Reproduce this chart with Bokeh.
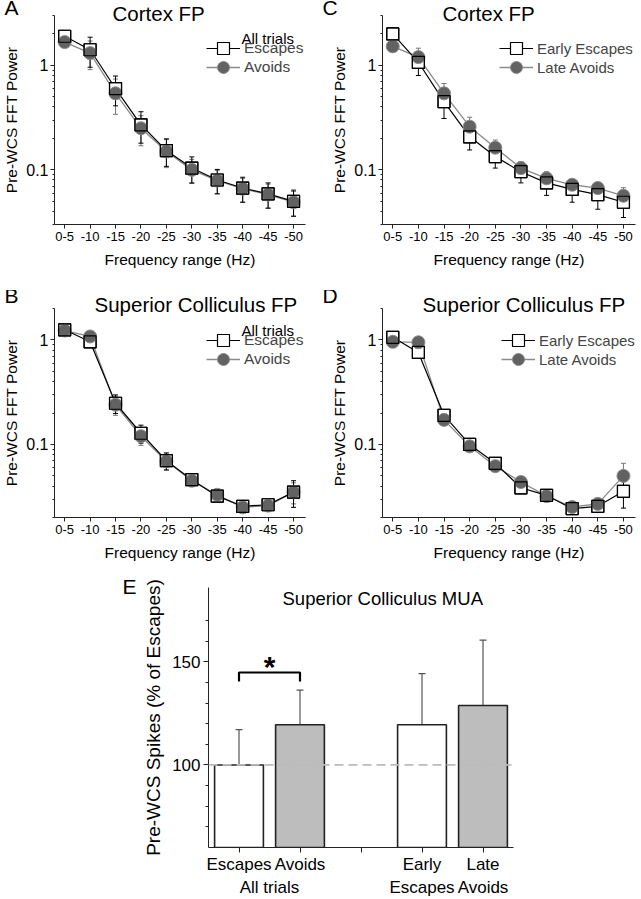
from bokeh.plotting import figure
from bokeh.layouts import column, row
from bokeh.models import (Range1d, FixedTicker, NumeralTickFormatter, Whisker, TeeHead,
                          Legend, LegendItem, Label, Span, ColumnDataSource, Title, LinearAxis)
from bokeh.embed import file_html
from bokeh.resources import INLINE

FONT = "Liberation Sans"

# ---------------- data ----------------
freq_labels = ["0-5", "-10", "-15", "-20", "-25", "-30", "-35", "-40", "-45", "-50"]

a_escapes = [1.90, 1.41, 0.60, 0.27, 0.153, 0.104, 0.080, 0.067, 0.059, 0.050]
a_escapes_err = [0.25, 0.45, 0.19, 0.09, 0.045, 0.029, 0.021, 0.018, 0.016, 0.014]
a_avoids = [1.67, 1.31, 0.54, 0.25, 0.150, 0.100, 0.079, 0.066, 0.058, 0.049]
a_avoids_err = [0.17, 0.40, 0.20, 0.08, 0.045, 0.026, 0.020, 0.017, 0.015, 0.013]

c_escapes = [2.00, 1.07, 0.45, 0.207, 0.134, 0.096, 0.075, 0.065, 0.058, 0.049]
c_escapes_err = [0.30, 0.27, 0.14, 0.052, 0.030, 0.021, 0.018, 0.016, 0.016, 0.014]
c_avoids = [1.52, 1.20, 0.54, 0.259, 0.163, 0.104, 0.083, 0.072, 0.067, 0.0565]
c_avoids_err = [0.15, 0.26, 0.13, 0.060, 0.030, 0.016, 0.013, 0.009, 0.009, 0.011]

b_escapes = [1.25, 0.96, 0.248, 0.128, 0.070, 0.046, 0.032, 0.0256, 0.0265, 0.035]
b_escapes_err = [0.12, 0.10, 0.05, 0.025, 0.013, 0.006, 0.003, 0.002, 0.002, 0.010]
b_avoids = [1.23, 1.08, 0.240, 0.120, 0.069, 0.045, 0.033, 0.025, 0.026, 0.035]
b_avoids_err = [0.10, 0.08, 0.05, 0.022, 0.012, 0.005, 0.003, 0.002, 0.002, 0.008]

d_escapes = [1.06, 0.76, 0.19, 0.100, 0.066, 0.0385, 0.0326, 0.0243, 0.0256, 0.0356]
d_escapes_err = [0.06, 0.06, 0.015, 0.008, 0.004, 0.003, 0.003, 0.002, 0.002, 0.011]
d_avoids = [0.96, 0.95, 0.172, 0.096, 0.062, 0.0437, 0.032, 0.0252, 0.027, 0.050]
d_avoids_err = [0.05, 0.05, 0.012, 0.006, 0.004, 0.003, 0.003, 0.002, 0.002, 0.016]

e_tick_labels = ["Escapes", "Avoids", "", "Early", "Late"]
e_group_ticks = [0.5, 3, 4]
e_group_labels = ["All trials", "Escapes", "Avoids"]
e_positions = [0, 1, 3, 4]
e_values = [100.0, 119.5, 119.5, 128.8]
e_errors = [17.1, 16.8, 24.8, 31.7]
e_fills = ["white", "#bdbdbd", "white", "#bdbdbd"]
bracket_y = [140.5, 144.8, 144.8, 140.5]
bracket_x = [0, 0, 1, 1]

ESC_COLOR = "black"
AVO_LINE = "#8a8a8a"
AVO_FILL = "#626262"
AXIS_COLOR = "#222222"
log_minor = [0.02, 0.03, 0.04, 0.05, 0.06, 0.07, 0.08, 0.09,
             0.2, 0.3, 0.4, 0.5, 0.6, 0.7, 0.8, 0.9, 2, 3, 4, 5, 6, 7, 8, 9]


def txt(x, y, text, size, xu="screen", yu="screen", align="left", style="normal",
        baseline="alphabetic"):
    return Label(x=x, y=y, x_units=xu, y_units=yu, text=text, text_font=FONT,
                 text_font_size=size, text_align=align, text_baseline=baseline,
                 text_font_style=style, text_color="black")


def add_title(p, text, size, offset, standoff):
    p.add_layout(Title(text=text, align="left", offset=offset, standoff=standoff,
                       vertical_align="bottom", text_font=FONT, text_font_size=size,
                       text_font_style="normal", text_color="black"), "above")


def spectrum_panel(width, height, borders, yrange, esc, esc_err, avo, avo_err, names,
                   header_xy, legend_x, legend_y1, legend_y2, legend_size):
    l, r, t, b = borders
    p = figure(width=width, height=height, output_backend="svg", toolbar_location=None,
               y_axis_type="log", x_range=Range1d(-0.4, 9.47), y_range=Range1d(*yrange),
               min_border_left=l, min_border_right=r, min_border_top=t, min_border_bottom=b)
    p.outline_line_color = None
    p.grid.visible = False

    xs = list(range(len(freq_labels)))
    src = ColumnDataSource(dict(
        x=xs, esc=esc, avo=avo,
        esc_lo=[v - e for v, e in zip(esc, esc_err)], esc_hi=[v + e for v, e in zip(esc, esc_err)],
        avo_lo=[v - e for v, e in zip(avo, avo_err)], avo_hi=[v + e for v, e in zip(avo, avo_err)],
    ))

    avo_line = p.line("x", "avo", source=src, line_color=AVO_LINE, line_width=1.3)
    esc_line = p.line("x", "esc", source=src, line_color=ESC_COLOR, line_width=1.2)

    p.add_layout(Whisker(source=src, base="x", lower="avo_lo", upper="avo_hi",
                         line_color="#777777", line_width=1,
                         lower_head=TeeHead(size=5, line_color="#777777", line_width=1),
                         upper_head=TeeHead(size=5, line_color="#777777", line_width=1)))
    p.add_layout(Whisker(source=src, base="x", lower="esc_lo", upper="esc_hi",
                         line_color="black", line_width=1,
                         lower_head=TeeHead(size=5, line_color="black", line_width=1),
                         upper_head=TeeHead(size=5, line_color="black", line_width=1)))

    esc_sq = p.scatter("x", "esc", source=src, marker="square", size=12,
                       fill_color="white", line_color="black", line_width=1.2)
    avo_ci = p.scatter("x", "avo", source=src, marker="circle", size=13,
                       fill_color=AVO_FILL, line_color=AVO_LINE, line_width=1)
    p.scatter("x", "esc", source=src, marker="square", size=12,
              fill_alpha=0, line_color="black", line_width=1.2)

    for item, ly in ((LegendItem(label=names[0], renderers=[esc_line, esc_sq]), legend_y1),
                     (LegendItem(label=names[1], renderers=[avo_line, avo_ci]), legend_y2)):
        p.add_layout(Legend(items=[item], location=(legend_x, ly), padding=0, margin=0,
                            glyph_width=34, glyph_height=30, label_height=30, label_standoff=4,
                            label_text_font=FONT, label_text_font_size=legend_size,
                            border_line_color=None, background_fill_alpha=0))

    p.xaxis.ticker = FixedTicker(ticks=xs)
    p.xaxis.major_label_overrides = {i: lab for i, lab in enumerate(freq_labels)}
    p.xaxis.axis_label = "Frequency range (Hz)"
    p.yaxis.ticker = FixedTicker(ticks=[0.1, 1], minor_ticks=log_minor)
    p.yaxis.formatter = NumeralTickFormatter(format="0.[0]")
    p.yaxis.axis_label = "Pre-WCS FFT Power"
    for ax in (p.xaxis[0], p.yaxis[0]):
        ax.axis_line_color = AXIS_COLOR
        ax.major_tick_line_color = AXIS_COLOR
        ax.minor_tick_line_color = AXIS_COLOR
        ax.major_tick_in = 0
        ax.major_tick_out = 4
        ax.minor_tick_in = 0
        ax.minor_tick_out = 2
        ax.major_label_text_font = FONT
        ax.axis_label_text_font = FONT
        ax.axis_label_text_font_style = "normal"
        ax.major_label_text_color = "black"
        ax.axis_label_text_color = "black"
        ax.major_label_standoff = 3
        ax.axis_label_standoff = 4
    p.xaxis.minor_tick_line_color = None
    p.xaxis.major_label_text_font_size = "13px"
    p.xaxis.axis_label_text_font_size = "15.5px"
    p.xaxis.axis_label_standoff = 7
    p.yaxis.major_label_text_font_size = "16px"
    p.yaxis.axis_label_text_font_size = "15.5px"
    p.yaxis.major_label_standoff = 2
    p.yaxis.axis_label_standoff = 3

    if header_xy is not None:
        p.add_layout(txt(header_xy[0], header_xy[1], "All trials", "15px"))
    return p


pA = spectrum_panel(320, 290, (52, 15, 15, 66), (0.03, 3.0),
                    a_escapes, a_escapes_err, a_avoids, a_avoids_err, ["Escapes", "Avoids"],
                    (187, 186), 152, 161, 142, "15.5px")
add_title(pA, "Cortex FP", "20.5px", 58, -18)
add_title(pA, "A", "21px", -50, -20)

pC = spectrum_panel(321, 290, (62, 6, 15, 66), (0.03, 3.0),
                    c_escapes, c_escapes_err, c_avoids, c_avoids_err, ["Early Escapes", "Late Avoids"],
                    None, 117, 161, 142, "15px")
add_title(pC, "Cortex FP", "20.5px", 60, -18)
add_title(pC, "C", "21px", -60, -20)

pB = spectrum_panel(320, 284, (52, 15, 18, 57), (0.02, 2.0),
                    b_escapes, b_escapes_err, b_avoids, b_avoids_err, ["Escapes", "Avoids"],
                    (187, 187.5), 152, 162, 143, "15.5px")
add_title(pB, "Superior Colliculus FP", "20.5px", 40, -14)
add_title(pB, "B", "21px", -50, -18)

pD = spectrum_panel(321, 284, (62, 6, 18, 57), (0.02, 2.0),
                    d_escapes, d_escapes_err, d_avoids, d_avoids_err, ["Early Escapes", "Late Avoids"],
                    None, 119, 162, 143, "15px")
add_title(pD, "Superior Colliculus FP", "20.5px", 40, -14)
add_title(pD, "D", "21px", -60, -18)

# ---------------- panel E ----------------
pE = figure(width=641, height=325, output_backend="svg", toolbar_location=None,
            x_range=Range1d(-0.5, 4.5), y_range=Range1d(60, 186),
            min_border_left=208, min_border_right=128, min_border_top=13, min_border_bottom=49)
pE.outline_line_color = None
pE.grid.visible = False

esrc = ColumnDataSource(dict(x=e_positions, top=e_values, fill=e_fills,
                             up=[v + e for v, e in zip(e_values, e_errors)]))
pE.vbar(x="x", top="top", bottom=0, width=0.8, source=esrc, fill_color="fill",
        line_color="#222222", line_width=1.6)
pE.add_layout(Whisker(source=esrc, base="x", lower="top", upper="up", lower_head=None,
                      upper_head=TeeHead(size=7, line_color="#555555", line_width=1.2),
                      line_color="#555555", line_width=1.2))
pE.add_layout(Span(location=100, dimension="width", line_color="#bbbbbb",
                   line_dash="9 5", line_width=1.8))
pE.line(bracket_x, bracket_y, line_color="black", line_width=2.2)
pE.add_layout(txt(0.5, 147.5, "*", "30px", xu="data", yu="data", align="center", style="bold"))
pE.add_layout(txt(74, 249, "Superior Colliculus MUA", "18.5px"))
add_title(pE, "E", "21px", -86, -20)

pE.xaxis.ticker = FixedTicker(ticks=list(range(len(e_tick_labels))))
pE.xaxis.major_label_overrides = {i: lab for i, lab in enumerate(e_tick_labels)}
group_axis = LinearAxis(ticker=FixedTicker(ticks=e_group_ticks),
                        major_label_overrides={t: lab for t, lab in zip(e_group_ticks, e_group_labels)})
pE.add_layout(group_axis, "below")
pE.yaxis.ticker = FixedTicker(ticks=[100, 150], minor_ticks=[70, 80, 90, 110, 120, 130, 140, 160, 170])
pE.yaxis.axis_label = "Pre-WCS Spikes (% of Escapes)"
for ax in (pE.xaxis[0], pE.yaxis[0], group_axis):
    ax.axis_line_color = AXIS_COLOR
    ax.major_tick_line_color = AXIS_COLOR
    ax.minor_tick_line_color = AXIS_COLOR
    ax.major_tick_in = 0
    ax.major_tick_out = 5
    ax.minor_tick_in = 0
    ax.minor_tick_out = 3
    ax.major_label_text_font = FONT
    ax.major_label_text_font_size = "17px"
    ax.major_label_text_color = "black"
    ax.axis_label_text_font = FONT
    ax.axis_label_text_font_size = "19px"
    ax.axis_label_text_font_style = "normal"
    ax.axis_label_text_color = "black"
    ax.major_label_standoff = 3
    ax.axis_label_standoff = 5
pE.xaxis[0].minor_tick_line_color = None
pE.xaxis[0].major_label_standoff = 2
group_axis.axis_line_color = None
group_axis.major_tick_line_color = None
group_axis.minor_tick_line_color = None
group_axis.major_tick_out = 0
group_axis.major_label_standoff = 1

layout = column(row(pA, pC), row(pB, pD), pE)

open("out.html", "w").write(file_html(layout, INLINE))
